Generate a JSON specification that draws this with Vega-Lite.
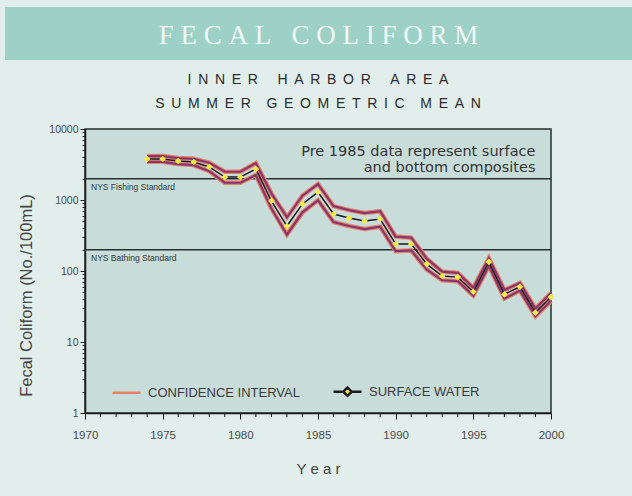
{
  "$schema": "https://vega.github.io/schema/vega-lite/v6.json",
  "background": "#e2eeeb",
  "padding": {"left": 5, "top": 7, "right": 0, "bottom": 18},
  "spacing": 12,
  "resolve": {"scale": {"color": "independent"}, "legend": {"color": "independent"}},
  "config": {"font": "Liberation Sans", "view": {"stroke": null}},
  "vconcat": [
    {
      "width": 627,
      "height": 53,
      "view": {"fill": "#9dd1c5", "stroke": null},
      "data": {"values": [{"h": "F\u00a0E\u00a0C\u00a0A\u00a0L\u00a0\u00a0\u00a0C\u00a0O\u00a0L\u00a0I\u00a0F\u00a0O\u00a0R\u00a0M"}]},
      "mark": {"type": "text", "font": "Liberation Serif", "fontSize": 27, "color": "#eef8f5", "baseline": "middle", "dy": 2},
      "encoding": {"text": {"field": "h", "type": "nominal"}}
    },
    {
      "spacing": 0,
      "resolve": {"scale": {"color": "independent"}, "legend": {"color": "independent"}},
      "hconcat": [
        {
          "width": 13,
          "height": 1,
          "data": {"values": []},
          "mark": {"type": "rect", "opacity": 0},
          "encoding": {}
        },
        {
          "width": 466,
          "height": 284,
          "view": {"fill": "#c8ddda", "stroke": "#26302e", "strokeWidth": 1.5},
          "title": {
            "text": [
              "I\u00a0\u2009N\u00a0\u2009N\u00a0\u2009E\u00a0\u2009R\u00a0\u00a0\u00a0\u00a0\u00a0H\u00a0\u2009A\u00a0\u2009R\u00a0\u2009B\u00a0\u2009O\u00a0\u2009R\u00a0\u00a0\u00a0\u00a0\u00a0A\u00a0\u2009R\u00a0\u2009E\u00a0\u2009A",
              "S\u00a0\u2009U\u00a0\u2009M\u00a0\u2009M\u00a0\u2009E\u00a0\u2009R\u00a0\u00a0\u00a0\u00a0G\u00a0\u2009E\u00a0\u2009O\u00a0\u2009M\u00a0\u2009E\u00a0\u2009T\u00a0\u2009R\u00a0\u2009I\u00a0\u2009C\u00a0\u00a0\u00a0\u00a0M\u00a0\u2009E\u00a0\u2009A\u00a0\u2009N"
            ],
            "font": "Liberation Sans",
            "fontSize": 14,
            "fontWeight": "normal",
            "color": "#2b2b2b",
            "lineHeight": 24,
            "anchor": "middle",
            "frame": "group",
            "offset": 13
          },
          "data": {"values": [
            {"year": 1974, "mean": 3780, "lo": 3450, "hi": 4150},
            {"year": 1975, "mean": 3780, "lo": 3450, "hi": 4150},
            {"year": 1976, "mean": 3540, "lo": 3200, "hi": 3900},
            {"year": 1977, "mean": 3430, "lo": 3100, "hi": 3800},
            {"year": 1978, "mean": 2920, "lo": 2550, "hi": 3350},
            {"year": 1979, "mean": 2100, "lo": 1750, "hi": 2500},
            {"year": 1980, "mean": 2100, "lo": 1750, "hi": 2500},
            {"year": 1981, "mean": 2730, "lo": 2250, "hi": 3300},
            {"year": 1982, "mean": 970, "lo": 760, "hi": 1240},
            {"year": 1983, "mean": 430, "lo": 325, "hi": 570},
            {"year": 1984, "mean": 880, "lo": 670, "hi": 1150},
            {"year": 1985, "mean": 1290, "lo": 990, "hi": 1680},
            {"year": 1986, "mean": 635, "lo": 490, "hi": 820},
            {"year": 1987, "mean": 557, "lo": 430, "hi": 720},
            {"year": 1988, "mean": 506, "lo": 390, "hi": 655},
            {"year": 1989, "mean": 540, "lo": 420, "hi": 695},
            {"year": 1990, "mean": 240, "lo": 190, "hi": 305},
            {"year": 1991, "mean": 240, "lo": 195, "hi": 295},
            {"year": 1992, "mean": 125, "lo": 105, "hi": 149},
            {"year": 1993, "mean": 85, "lo": 74, "hi": 98},
            {"year": 1994, "mean": 82, "lo": 72, "hi": 94},
            {"year": 1995, "mean": 51, "lo": 45, "hi": 58},
            {"year": 1996, "mean": 134, "lo": 118, "hi": 152},
            {"year": 1997, "mean": 47, "lo": 41, "hi": 54},
            {"year": 1998, "mean": 60, "lo": 53, "hi": 68},
            {"year": 1999, "mean": 26, "lo": 23, "hi": 29.5},
            {"year": 2000, "mean": 43, "lo": 38, "hi": 49}
          ]},
          "layer": [
            {
              "data": {"values": [{"std": 2000, "label": "NYS Fishing Standard"}, {"std": 200, "label": "NYS Bathing Standard"}]},
              "layer": [
                {
                  "mark": {"type": "rule", "color": "#26302e", "strokeWidth": 1.5},
                  "encoding": {
                    "y": {"field": "std", "type": "quantitative", "scale": {"type": "log", "domain": [1, 10000], "nice": false}}
                  }
                },
                {
                  "mark": {"type": "text", "align": "left", "baseline": "top", "dx": 6, "dy": 4, "fontSize": 8.5, "color": "#2e3a38"},
                  "encoding": {
                    "x": {"datum": 1970, "type": "quantitative", "scale": {"domain": [1970, 2000], "nice": false, "zero": false}},
                    "y": {"field": "std", "type": "quantitative", "scale": {"type": "log", "domain": [1, 10000], "nice": false}},
                    "text": {"field": "label", "type": "nominal"}
                  }
                }
              ]
            },
            {
              "data": {"values": [{"yr": 1971}, {"yr": 1972}, {"yr": 1973}, {"yr": 1974}, {"yr": 1976}, {"yr": 1977}, {"yr": 1978}, {"yr": 1979}, {"yr": 1981}, {"yr": 1982}, {"yr": 1983}, {"yr": 1984}, {"yr": 1986}, {"yr": 1987}, {"yr": 1988}, {"yr": 1989}, {"yr": 1991}, {"yr": 1992}, {"yr": 1993}, {"yr": 1994}, {"yr": 1996}, {"yr": 1997}, {"yr": 1998}, {"yr": 1999}]},
              "mark": {"type": "tick", "orient": "vertical", "size": 4, "thickness": 1, "color": "#1a1a1a", "opacity": 1, "yOffset": 2, "clip": false},
              "encoding": {
                "x": {"field": "yr", "type": "quantitative", "scale": {"domain": [1970, 2000], "nice": false, "zero": false}},
                "y": {"datum": 1, "type": "quantitative", "scale": {"type": "log", "domain": [1, 10000], "nice": false}}
              }
            },
            {
              "data": {"values": [{"note": "Pre 1985 data represent surface\nand bottom composites"}]},
              "mark": {"type": "text", "align": "right", "baseline": "top", "lineBreak": "\n", "font": "DejaVu Sans", "fontSize": 14.5, "lineHeight": 16, "color": "#333333"},
              "encoding": {
                "x": {"datum": 1999, "type": "quantitative", "scale": {"domain": [1970, 2000], "nice": false, "zero": false}},
                "y": {"datum": 5900, "type": "quantitative", "scale": {"type": "log", "domain": [1, 10000], "nice": false}},
                "text": {"field": "note", "type": "nominal"}
              }
            },
            {
              "mark": {"type": "line", "strokeWidth": 4.5},
              "encoding": {
                "x": {
                  "field": "year", "type": "quantitative",
                  "scale": {"domain": [1970, 2000], "nice": false, "zero": false},
                  "axis": {
                    "values": [1970, 1975, 1980, 1985, 1990, 1995, 2000],
                    "format": "d",
                    "tickSize": 6,
                    "tickColor": "#1a1a1a",
                    "domainColor": "#1a1a1a",
                    "domainWidth": 1.5,
                    "labelFontSize": 11.5,
                    "labelColor": "#4a4a4a",
                    "labelPadding": 10,
                    "labelOverlap": false,
                    "labelFlush": false,
                    "grid": false,
                    "title": "Y\u00a0e\u00a0a\u00a0r",
                    "titleFontSize": 15,
                    "titleFontWeight": "normal",
                    "titleColor": "#454545",
                    "titlePadding": 21
                  }
                },
                "y": {
                  "field": "hi", "type": "quantitative",
                  "scale": {"type": "log", "domain": [1, 10000], "nice": false},
                  "axis": {
                    "values": [1,2,3,4,5,6,7,8,9,10,20,30,40,50,60,70,80,90,100,200,300,400,500,600,700,800,900,1000,2000,3000,4000,5000,6000,7000,8000,9000,10000],
                    "format": "d",
                    "labelExpr": "(datum.value == 1 || datum.value == 10 || datum.value == 100 || datum.value == 1000 || datum.value == 10000) ? datum.label : ''",
                    "tickSize": {"condition": {"test": "datum.value == 1 || datum.value == 10 || datum.value == 100 || datum.value == 1000 || datum.value == 10000", "value": 5}, "value": 3},
                    "tickColor": "#1a1a1a",
                    "domainColor": "#1a1a1a",
                    "domainWidth": 1.5,
                    "labelFontSize": 10.5,
                    "labelColor": "#4a4a4a",
                    "labelPadding": 2,
                    "labelOverlap": "greedy",
                    "labelFlush": false,
                    "grid": false,
                    "title": "Fecal Coliform (No./100mL)",
                    "titleFontSize": 16.5,
                    "titleFontWeight": "normal",
                    "titleColor": "#454545",
                    "titlePadding": 14,
                    "titleY": 166
                  }
                },
                "color": {
                  "datum": "CONFIDENCE INTERVAL", "type": "nominal",
                  "scale": {"domain": ["CONFIDENCE INTERVAL", "SURFACE WATER"], "range": ["#e08468", "#1a1a1a"]},
                  "legend": {
                    "title": null,
                    "orient": "none",
                    "legendX": 26,
                    "legendY": 247,
                    "direction": "horizontal",
                    "columns": 2,
                    "columnPadding": 28,
                    "symbolType": "stroke",
                    "symbolSize": 784,
                    "symbolStrokeWidth": 2.5,
                    "labelFontSize": 13,
                    "labelColor": "#3a3a3a",
                    "labelOffset": 6,
                    "padding": 0,
                    "encode": {
                      "symbols": {
                        "update": {
                          "shape": {"signal": "datum.value === 'SURFACE WATER' ? 'M-1,0H-0.3M0.3,0H1M-0.3,0L0,-0.3L0.3,0L0,0.3Z' : 'stroke'"},
                          "fill": {"signal": "datum.value === 'SURFACE WATER' ? '#f5e94a' : 'transparent'"}
                        }
                      }
                    }
                  }
                }
              }
            },
            {
              "mark": {"type": "line", "strokeWidth": 4.5},
              "encoding": {
                "x": {"field": "year", "type": "quantitative", "scale": {"domain": [1970, 2000], "nice": false, "zero": false}},
                "y": {"field": "lo", "type": "quantitative", "scale": {"type": "log", "domain": [1, 10000], "nice": false}},
                "color": {"datum": "CONFIDENCE INTERVAL", "type": "nominal", "scale": {"domain": ["CONFIDENCE INTERVAL", "SURFACE WATER"], "range": ["#e08468", "#1a1a1a"]}}
              }
            },
            {
              "mark": {"type": "line", "strokeWidth": 2.2, "color": "#8b3470"},
              "encoding": {
                "x": {"field": "year", "type": "quantitative", "scale": {"domain": [1970, 2000], "nice": false, "zero": false}},
                "y": {"field": "hi", "type": "quantitative", "scale": {"type": "log", "domain": [1, 10000], "nice": false}}
              }
            },
            {
              "mark": {"type": "line", "strokeWidth": 2.2, "color": "#8b3470"},
              "encoding": {
                "x": {"field": "year", "type": "quantitative", "scale": {"domain": [1970, 2000], "nice": false, "zero": false}},
                "y": {"field": "lo", "type": "quantitative", "scale": {"type": "log", "domain": [1, 10000], "nice": false}}
              }
            },
            {
              "mark": {"type": "line", "strokeWidth": 1.5},
              "encoding": {
                "x": {"field": "year", "type": "quantitative", "scale": {"domain": [1970, 2000], "nice": false, "zero": false}},
                "y": {"field": "mean", "type": "quantitative", "scale": {"type": "log", "domain": [1, 10000], "nice": false}},
                "color": {"datum": "SURFACE WATER", "type": "nominal", "scale": {"domain": ["CONFIDENCE INTERVAL", "SURFACE WATER"], "range": ["#e08468", "#1a1a1a"]}}
              }
            },
            {
              "mark": {"type": "point", "shape": "diamond", "filled": true, "size": 45, "color": "#f5e94a", "opacity": 1},
              "encoding": {
                "x": {"field": "year", "type": "quantitative", "scale": {"domain": [1970, 2000], "nice": false, "zero": false}},
                "y": {"field": "mean", "type": "quantitative", "scale": {"type": "log", "domain": [1, 10000], "nice": false}}
              }
            }
          ]
        }
      ]
    }
  ]
}
